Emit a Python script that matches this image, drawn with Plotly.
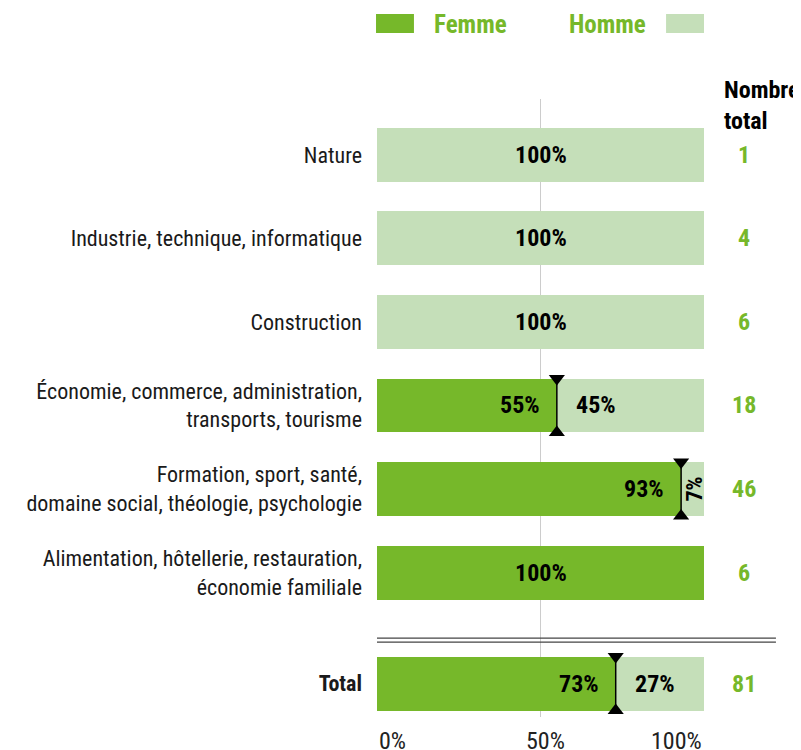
import plotly.graph_objects as go

FONT = "Liberation Sans Narrow, Roboto Condensed, Arial Narrow, sans-serif"
GREEN = "#76b82a"
LIGHT = "#c5dfb9"

categories = [
    "Nature",
    "Industrie, technique, informatique",
    "Construction",
    "Économie, commerce, administration,<br>transports, tourisme",
    "Formation, sport, santé,<br>domaine social, théologie, psychologie",
    "Alimentation, hôtellerie, restauration,<br>économie familiale",
    "<b>Total</b>",
]
femme = [0, 0, 0, 55, 93, 100, 73]
homme = [100, 100, 100, 45, 7, 0, 27]
nombre_total = [1, 4, 6, 18, 46, 6, 81]
series_names = ["Femme", "Homme"]
x_ticks = [0, 50, 100]
tick_labels = ["0%", "50%", "100%"]

# rows 0..n-2, total row pushed a bit further down
ypos = list(range(len(categories) - 1)) + [len(categories) - 1 + 0.33]
bw = 0.646

fig = go.Figure()
fig.add_bar(y=ypos, x=femme, orientation="h", width=bw, name=series_names[0],
            marker=dict(color=GREEN, line_width=0))
fig.add_bar(y=ypos, x=homme, orientation="h", width=bw, name=series_names[1],
            marker=dict(color=LIGHT, line_width=0))

ann = []
lbl = dict(family=FONT, size=24, color="black")
for f, h, y in zip(femme, homme, ypos):
    if f == 0 or h == 0:
        ann.append(dict(x=50, y=y, text=f"<b>{max(f, h)}%</b>", showarrow=False,
                        xanchor="center", yanchor="middle", font=lbl))
        continue
    ann.append(dict(x=f, y=y, text=f"<b>{f}%</b>", showarrow=False, xanchor="right",
                    yanchor="middle", xshift=-15, font=lbl))
    if h >= 15:
        ann.append(dict(x=f, y=y, text=f"<b>{h}%</b>", showarrow=False, xanchor="left",
                        yanchor="middle", xshift=17, font=lbl))
    else:
        ann.append(dict(x=(f + 100) / 2, y=y, text=f"<b>{h}%</b>", showarrow=False,
                        xanchor="center", yanchor="middle", textangle=-90, xshift=1,
                        font=dict(family=FONT, size=22, color="black")))
    fig.add_scatter(x=[f, f], y=[y - bw / 2, y + bw / 2], mode="lines+markers",
                    line=dict(color="black", width=1.5),
                    marker=dict(symbol=["triangle-down", "triangle-up"], size=14, color="black"),
                    showlegend=False, cliponaxis=False, hoverinfo="skip")

for n, y in zip(nombre_total, ypos):
    ann.append(dict(x=1.1223, xref="paper", y=y, text=f"<b>{n}</b>", showarrow=False,
                    xanchor="center", yanchor="middle",
                    font=dict(family=FONT, size=24, color=GREEN)))

ann.append(dict(x=1.055, xref="paper", y=0.99, yref="paper", text="<b>Nombre<br>total</b>",
                showarrow=False, xanchor="left", yanchor="middle", align="left",
                font=dict(family=FONT, size=24, color="black")))

anchors = ["left", "center", "right"]
for v, t, a in zip(x_ticks, tick_labels, anchors):
    ann.append(dict(x=v, y=0, yref="paper", text=t, showarrow=False, xanchor=a,
                    yanchor="top", yshift=-8, xshift=5 if a == "center" else 0,
                    font=dict(family=FONT, size=24, color="#222222")))

# legend drawn by hand: swatch left of Femme, right of Homme
ann.append(dict(x=0.168, xref="paper", y=1.121, yref="paper", text=f"<b>{series_names[0]}</b>",
                showarrow=False, xanchor="left", yanchor="middle",
                font=dict(family=FONT, size=25, color=GREEN)))
ann.append(dict(x=0.829, xref="paper", y=1.121, yref="paper", text=f"<b>{series_names[1]}</b>",
                showarrow=False, xanchor="right", yanchor="middle",
                font=dict(family=FONT, size=25, color=GREEN)))

shapes = [
    dict(type="rect", xref="paper", yref="paper", x0=-0.003, x1=0.113, y0=1.1068, y1=1.1375,
         fillcolor=GREEN, line_width=0),
    dict(type="rect", xref="paper", yref="paper", x0=0.884, x1=1.0, y0=1.1068, y1=1.1375,
         fillcolor=LIGHT, line_width=0),
]
sep = ypos[-2] + 0.81
for dy in (-0.024, 0.024):
    shapes.append(dict(type="line", xref="paper", yref="y", x0=0, x1=1.22, y0=sep + dy, y1=sep + dy,
                       line=dict(color="#444444", width=1.3)))

fig.update_layout(
    barmode="stack",
    width=801, height=750,
    margin=dict(l=369, r=105, t=91, b=41),
    plot_bgcolor="white", paper_bgcolor="white",
    showlegend=False,
    font=dict(family=FONT, size=22, color="#1a1a1a"),
    annotations=ann, shapes=shapes,
)
fig.update_xaxes(range=[0, 100], tickvals=x_ticks, showticklabels=False, showgrid=True,
                 gridcolor="#cccccc", gridwidth=1, zeroline=False, showline=False, fixedrange=True)
fig.update_yaxes(range=[6.73, -0.67], tickvals=ypos, ticktext=categories, showgrid=False,
                 zeroline=False, showline=False, ticks="", ticklabelstandoff=14,
                 tickfont=dict(family=FONT, size=22, color="#1a1a1a"))

fig.write_html("out.html")
